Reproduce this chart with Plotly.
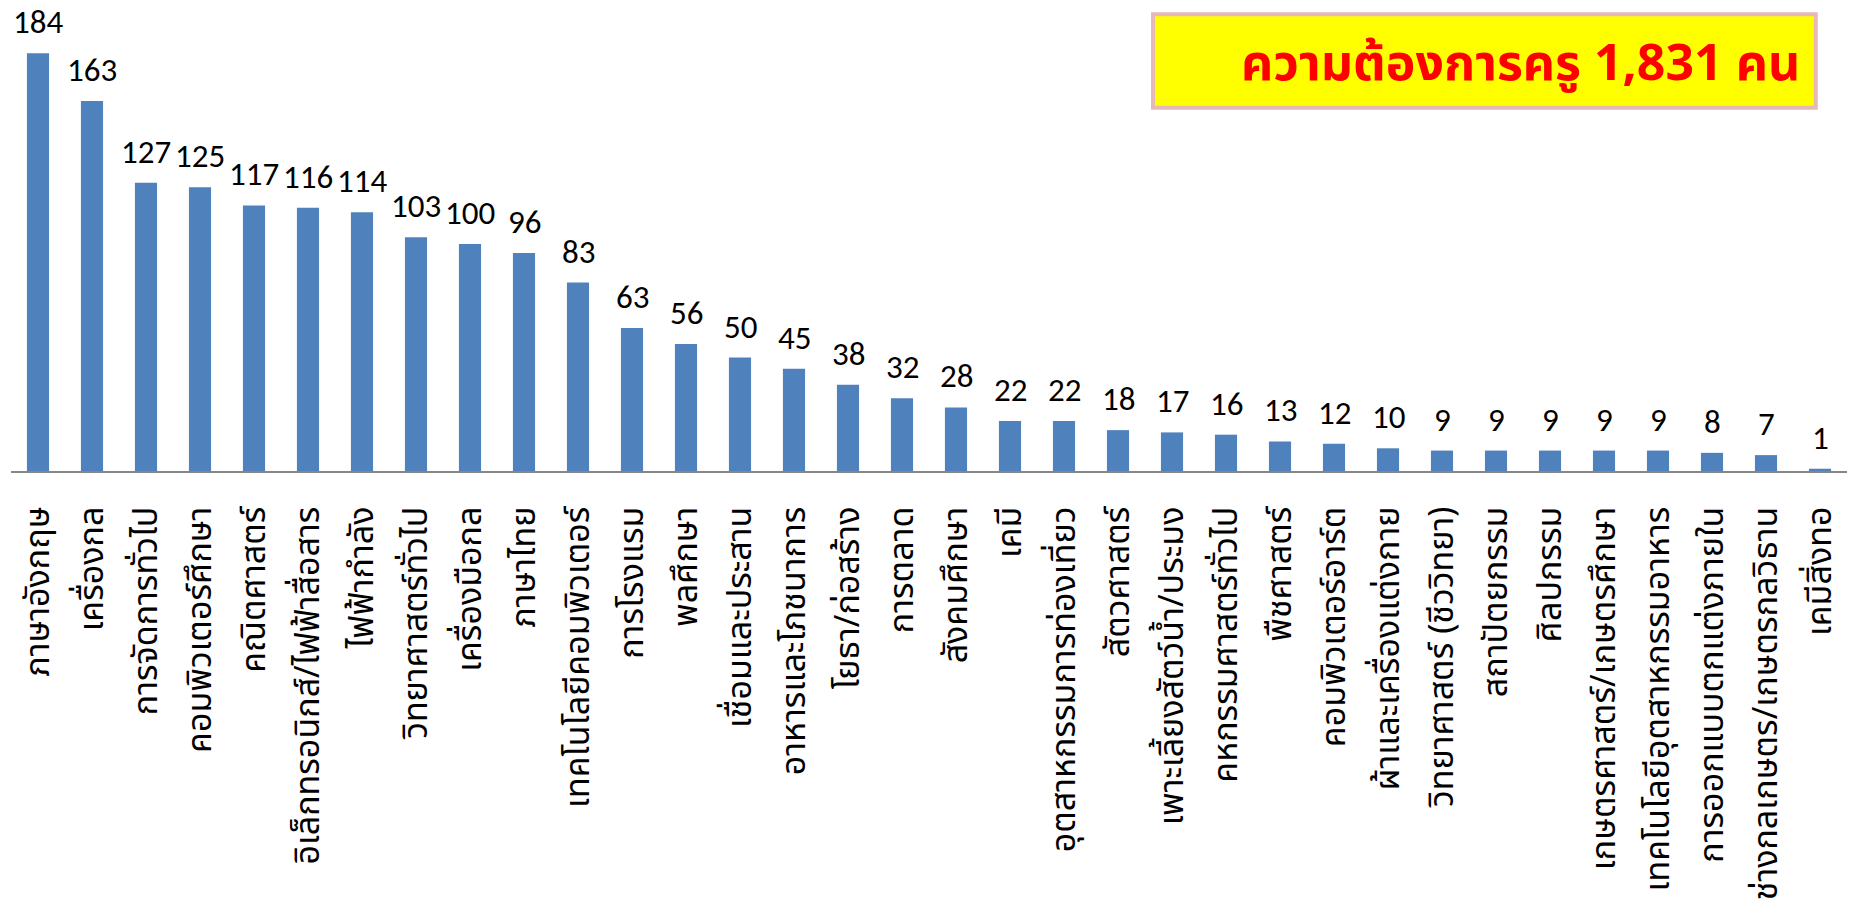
import plotly.graph_objects as go

categories = [
    "ภาษาอังกฤษ", "เครื่องกล", "การจัดการทั่วไป", "คอมพิวเตอร์ศึกษา", "คณิตศาสตร์",
    "อิเล็กทรอนิกส์/ไฟฟ้าสื่อสาร", "ไฟฟ้ากำลัง", "วิทยาศาสตร์ทั่วไป", "เครื่องมือกล", "ภาษาไทย",
    "เทคโนโลยีคอมพิวเตอร์", "การโรงแรม", "พลศึกษา", "เชื่อมและประสาน", "อาหารและโภชนาการ",
    "โยธา/ก่อสร้าง", "การตลาด", "สังคมศึกษา", "เคมี", "อุตสาหกรรมการท่องเที่ยว",
    "สัตวศาสตร์", "เพาะเลี้ยงสัตว์น้ำ/ประมง", "คหกรรมศาสตร์ทั่วไป", "พืชศาสตร์", "คอมพิวเตอร์อาร์ต",
    "ผ้าและเครื่องแต่งกาย", "วิทยาศาสตร์ (ชีววิทยา)", "สถาปัตยกรรม", "ศิลปกรรม", "เกษตรศาสตร์/เกษตรศึกษา",
    "เทคโนโลยีอุตสาหกรรมอาหาร", "การออกแบบตกแต่งภายใน", "ช่างกลเกษตร/เกษตรกลวิธาน", "เคมีสิ่งทอ",
]
teachers_needed = [
    184, 163, 127, 125, 117, 116, 114, 103, 100, 96,
    83, 63, 56, 50, 45, 38, 32, 28, 22, 22,
    18, 17, 16, 13, 12, 10, 9, 9, 9, 9,
    9, 8, 7, 1,
]
total_label = "ความต้องการครู 1,831 คน"

THAI_FONT = "Tahoma, 'Noto Sans Thai', Loma, Garuda, 'Open Sans', sans-serif"
NUM_FONT = "Carlito, Calibri, 'Open Sans', sans-serif"

fig = go.Figure()
fig.add_trace(go.Bar(
    x=categories,
    y=teachers_needed,
    marker=dict(color="#4F81BD", line=dict(width=0)),
    hoverinfo="x+y",
))

for c, v in zip(categories, teachers_needed):
    fig.add_annotation(
        x=c, y=v, text=str(v), showarrow=False,
        yanchor="bottom", xanchor="center", yshift=9,
        font=dict(family=NUM_FONT, size=33, color="#000000"),
    )

fig.add_shape(
    type="rect", xref="paper", yref="paper",
    x0=0.622, x1=0.983, y0=0.771, y1=0.970,
    fillcolor="#FFFF00", line=dict(color="#E6B9B8", width=4), layer="above",
)
fig.add_annotation(
    xref="paper", yref="paper", x=0.822, y=0.862,
    text="<b>" + total_label + "</b>", showarrow=False,
    xanchor="center", yanchor="middle",
    font=dict(family=THAI_FONT, size=50, color="#FF0000"),
)

fig.update_layout(
    width=1849, height=917,
    margin=dict(l=11, r=2, t=0, b=446),
    paper_bgcolor="white", plot_bgcolor="white",
    bargap=0.59,
    showlegend=False,
    xaxis=dict(
        type="category",
        tickangle=-90,
        tickfont=dict(family=THAI_FONT, size=34, color="#000000"),
        showline=True, linecolor="#868686", linewidth=2,
        ticks="", showgrid=False, zeroline=False,
        ticklabelstandoff=20,
        automargin=False,
    ),
    yaxis=dict(
        range=[0, 207.5], visible=False, showgrid=False, zeroline=False,
    ),
)

fig.write_html(
    "out.html",
    config={"displayModeBar": False},
    post_script="document.body.style.margin='0';document.body.style.padding='0';",
)
